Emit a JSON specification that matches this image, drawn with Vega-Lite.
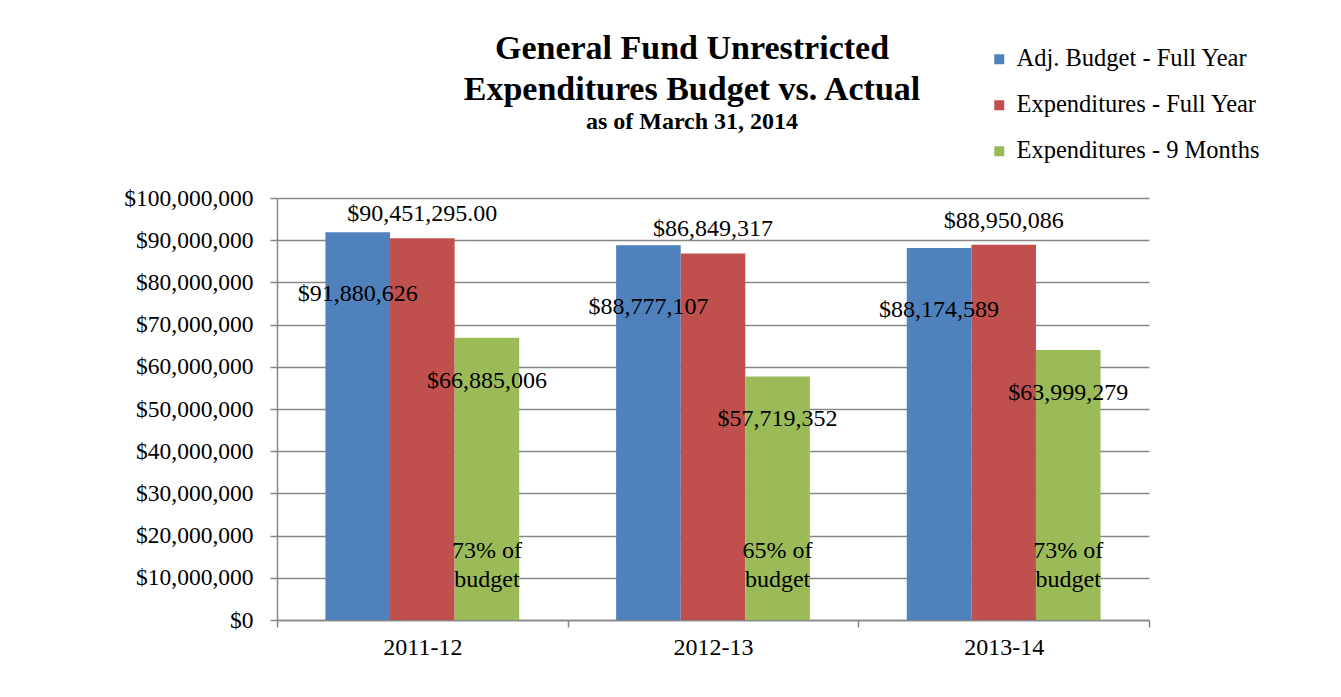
{
  "$schema": "https://vega.github.io/schema/vega-lite/v6.json",
  "width": 872,
  "height": 422,
  "autosize": {"type": "none"},
  "padding": {"left": 277, "top": 198, "right": 192, "bottom": 77},
  "background": "white",
  "config": {
    "view": {"stroke": null},
    "font": "Liberation Serif"
  },
  "title": {
    "text": ["General Fund Unrestricted", "Expenditures Budget vs. Actual"],
    "subtitle": "as of March 31, 2014",
    "font": "Liberation Serif",
    "fontSize": 34,
    "fontWeight": "bold",
    "color": "black",
    "lineHeight": 41,
    "subtitleFont": "Liberation Serif",
    "subtitleFontSize": 24,
    "subtitleFontWeight": "bold",
    "subtitleColor": "black",
    "subtitlePadding": 3,
    "anchor": "middle",
    "frame": "group",
    "dx": -21,
    "offset": -87
  },
  "datasets": {
    "bars": [
      {"year": "2011-12", "series": "Adj. Budget - Full Year", "value": 91880626, "label": "$91,880,626"},
      {"year": "2011-12", "series": "Expenditures - Full Year", "value": 90451295, "label": "$90,451,295.00"},
      {"year": "2011-12", "series": "Expenditures - 9 Months", "value": 66885006, "label": "$66,885,006"},
      {"year": "2012-13", "series": "Adj. Budget - Full Year", "value": 88777107, "label": "$88,777,107"},
      {"year": "2012-13", "series": "Expenditures - Full Year", "value": 86849317, "label": "$86,849,317"},
      {"year": "2012-13", "series": "Expenditures - 9 Months", "value": 57719352, "label": "$57,719,352"},
      {"year": "2013-14", "series": "Adj. Budget - Full Year", "value": 88174589, "label": "$88,174,589"},
      {"year": "2013-14", "series": "Expenditures - Full Year", "value": 88950086, "label": "$88,950,086"},
      {"year": "2013-14", "series": "Expenditures - 9 Months", "value": 63999279, "label": "$63,999,279"}
    ],
    "notes": [
      {"year": "2011-12", "note": "73% of\nbudget"},
      {"year": "2012-13", "note": "65% of\nbudget"},
      {"year": "2013-14", "note": "73% of\nbudget"}
    ]
  },
  "encoding": {
    "x": {
      "field": "year",
      "type": "nominal",
      "title": null,
      "scale": {"paddingInner": 0, "paddingOuter": 0},
      "axis": {
        "labelAngle": 0,
        "labelFont": "Liberation Serif",
        "labelFontSize": 24,
        "labelColor": "black",
        "labelPadding": 8,
        "tickBand": "extent",
        "tickSize": 7,
        "tickColor": "#878787",
        "tickWidth": 1.5,
        "domainColor": "#878787",
        "domainWidth": 1.5
      }
    },
    "xOffset": {
      "field": "series",
      "type": "nominal",
      "scale": {
        "domain": ["Adj. Budget - Full Year", "Expenditures - Full Year", "Expenditures - 9 Months"],
        "paddingInner": 0,
        "paddingOuter": 0.75
      }
    }
  },
  "layer": [
    {
      "data": {"name": "bars"},
      "mark": {"type": "bar"},
      "encoding": {
        "y": {
          "field": "value",
          "type": "quantitative",
          "title": null,
          "scale": {"domain": [0, 100000000], "nice": false},
          "axis": {
            "values": [0, 10000000, 20000000, 30000000, 40000000, 50000000, 60000000, 70000000, 80000000, 90000000, 100000000],
            "format": "$,d",
            "labelFont": "Liberation Serif",
            "labelFontSize": 23.5,
            "labelColor": "black",
            "labelPadding": 17,
            "tickSize": 7,
            "tickColor": "#878787",
            "tickWidth": 1.5,
            "domainColor": "#878787",
            "domainWidth": 1.5,
            "grid": true,
            "gridColor": "#878787",
            "gridWidth": 1.5
          }
        },
        "color": {
          "field": "series",
          "type": "nominal",
          "scale": {
            "domain": ["Adj. Budget - Full Year", "Expenditures - Full Year", "Expenditures - 9 Months"],
            "range": ["#4F81BD", "#C0504D", "#9BBB59"]
          },
          "legend": {
            "title": null,
            "orient": "none",
            "legendX": 710,
            "legendY": -151,
            "padding": 0,
            "symbolType": "square",
            "symbolSize": 100,
            "symbolStrokeWidth": 0,
            "labelFont": "Liberation Serif",
            "labelFontSize": 24.5,
            "labelColor": "black",
            "labelOffset": 5,
            "labelLimit": 400,
            "rowPadding": 21
          }
        }
      }
    },
    {
      "data": {"name": "bars"},
      "transform": [{"filter": "datum.series === 'Adj. Budget - Full Year'"}],
      "mark": {"type": "text", "font": "Liberation Serif", "fontSize": 24, "color": "black", "baseline": "middle", "dy": 62},
      "encoding": {
        "y": {"field": "value", "type": "quantitative"},
        "text": {"field": "label"}
      }
    },
    {
      "data": {"name": "bars"},
      "transform": [{"filter": "datum.series === 'Expenditures - Full Year'"}],
      "mark": {"type": "text", "font": "Liberation Serif", "fontSize": 24, "color": "black", "baseline": "middle", "dy": -24},
      "encoding": {
        "y": {"field": "value", "type": "quantitative"},
        "text": {"field": "label"}
      }
    },
    {
      "data": {"name": "bars"},
      "transform": [{"filter": "datum.series === 'Expenditures - 9 Months'"}],
      "mark": {"type": "text", "font": "Liberation Serif", "fontSize": 24, "color": "black", "baseline": "middle", "dy": 43},
      "encoding": {
        "y": {"field": "value", "type": "quantitative"},
        "text": {"field": "label"}
      }
    },
    {
      "data": {"name": "notes"},
      "mark": {"type": "text", "font": "Liberation Serif", "fontSize": 24, "color": "black", "baseline": "middle", "lineBreak": "\n", "lineHeight": 29, "dy": -69},
      "encoding": {
        "xOffset": {"datum": "Expenditures - 9 Months"},
        "y": {"datum": 0, "type": "quantitative"},
        "text": {"field": "note"}
      }
    }
  ]
}
